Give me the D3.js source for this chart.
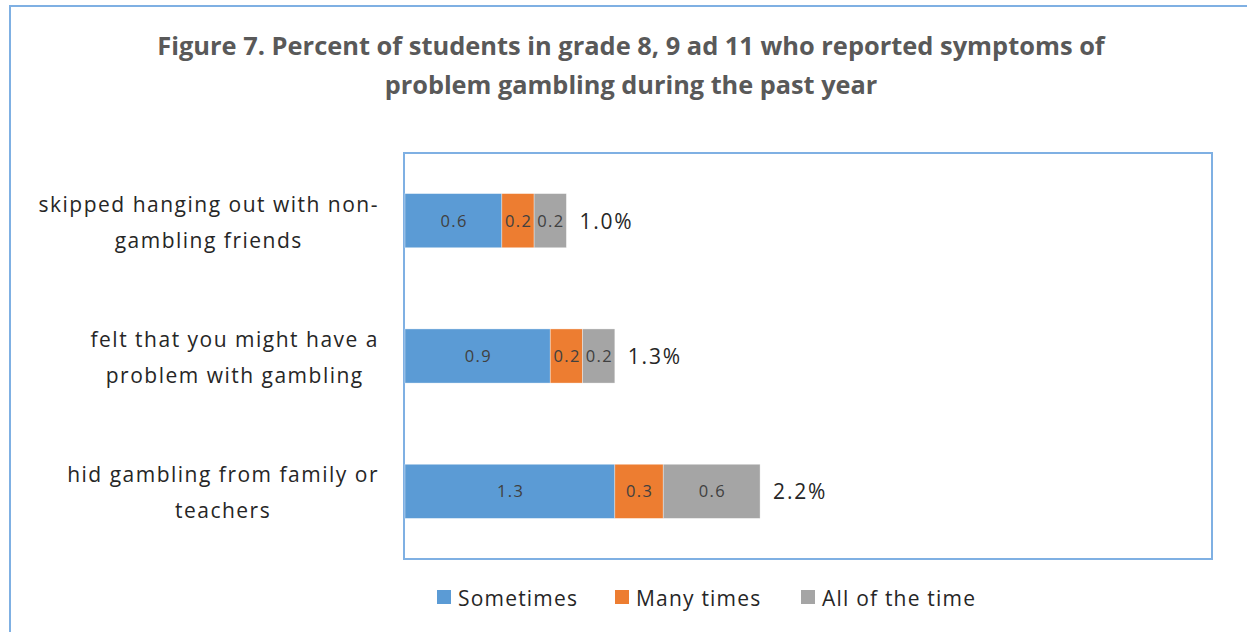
<!DOCTYPE html>
<html><head><meta charset="utf-8">
<script src="https://cdn.jsdelivr.net/npm/d3@7"></script>
<style>body{margin:0;background:#fff;overflow:hidden}svg{display:block}</style>
</head><body>
<svg id="c" width="1247" height="632"></svg>
<script>
const titleLines = ["Figure 7. Percent of students in grade 8, 9 ad 11 who reported symptoms of", "problem gambling during the past year"];
const categories = ["skipped hanging out with non-|gambling friends", "felt that you might have a|problem with gambling", "hid gambling from family or|teachers"];
const seriesNames = ["Sometimes", "Many times", "All of the time"];
const sometimes = [0.6, 0.9, 1.3];
const manyTimes = [0.2, 0.2, 0.3];
const allTime = [0.2, 0.2, 0.6];
const totals = ["1.0%", "1.3%", "2.2%"];
const colors = ["#5B9BD5", "#ED7D31", "#A5A5A5"];

const svg = d3.select("#c");
const font = "'Open Sans', 'Noto Sans', sans-serif";

// outer border
svg.append("rect").attr("x",10).attr("y",6).attr("width",1250).attr("height",640)
  .attr("fill","none").attr("stroke","#7FB0E3").attr("stroke-width",2);

// title
const tY = [55, 94];
const tW = [948, 493];
titleLines.forEach((t,i)=>{
  const el = svg.append("text").attr("x",631).attr("y",tY[i]).attr("text-anchor","middle")
    .attr("font-family",font).attr("font-weight","bold").attr("font-size",23)
    .attr("fill","#595959").text(t);
  const w = el.node().getComputedTextLength();
  el.attr("font-size", 23*tW[i]/w);
});

const x0 = 404, x1 = 1212, y0 = 153, y1 = 559;
const x = d3.scaleLinear().domain([0,5]).range([x0+1, x1]);
const y = d3.scaleBand().domain(categories).range([y0,y1]).paddingInner(0.6).paddingOuter(0.3);

// frame
svg.append("rect").attr("x",x0).attr("y",y0).attr("width",x1-x0).attr("height",y1-y0)
  .attr("fill","none").attr("stroke","#7FB0E3").attr("stroke-width",2);

const data = categories.map((c,i)=>({cat:c, Sometimes:sometimes[i], "Many times":manyTimes[i], "All of the time":allTime[i]}));
const stack = d3.stack().keys(seriesNames)(data);

stack.forEach((s,si)=>{
  const g = svg.append("g");
  g.selectAll("rect").data(s).join("rect")
    .attr("x",d=>x(d[0])).attr("y",d=>y(d.data.cat))
    .attr("width",d=>x(d[1])-x(d[0])).attr("height",y.bandwidth())
    .attr("fill",colors[si]).attr("stroke","#ffffff").attr("stroke-opacity",0.5).attr("stroke-width",0.7);
  g.selectAll("text").data(s).join("text")
    .attr("x",d=>(x(d[0])+x(d[1]))/2 + 0.7).attr("y",d=>y(d.data.cat)+y.bandwidth()/2+6)
    .attr("text-anchor","middle").attr("font-family",font).attr("font-size",16.5).attr("letter-spacing",1.4)
    .attr("fill","#404040").text(d=>(d[1]-d[0]).toFixed(1));
});

// totals
data.forEach((d,i)=>{
  const tot = sometimes[i]+manyTimes[i]+allTime[i];
  svg.append("text").attr("x",x(tot)+13).attr("y",y(d.cat)+y.bandwidth()/2+8)
    .attr("font-family",font).attr("font-size",21).attr("letter-spacing",1.8).attr("fill","#262626").text(totals[i]);
});

// category labels
categories.forEach(c=>{
  const lines = c.split("|");
  const cy = y(c)+y.bandwidth()/2;
  const els = lines.map((l,li)=>svg.append("text").attr("y",cy - 9 + li*36)
    .attr("text-anchor","middle").attr("font-family",font).attr("font-size",21).attr("letter-spacing",1.5)
    .attr("fill","#262626").text(l));
  const mw = d3.max(els, e=>e.node().getComputedTextLength());
  els.forEach(e=>e.attr("x", 379 - mw/2));
});

// legend
const legX = [437, 615, 801];
seriesNames.forEach((n,i)=>{
  svg.append("rect").attr("x",legX[i]).attr("y",590).attr("width",14).attr("height",14).attr("fill",colors[i]);
  svg.append("text").attr("x",legX[i]+21).attr("y",606).attr("font-family",font).attr("font-size",21)
    .attr("letter-spacing",1.2).attr("fill","#262626").text(n);
});
</script>
</body></html>
